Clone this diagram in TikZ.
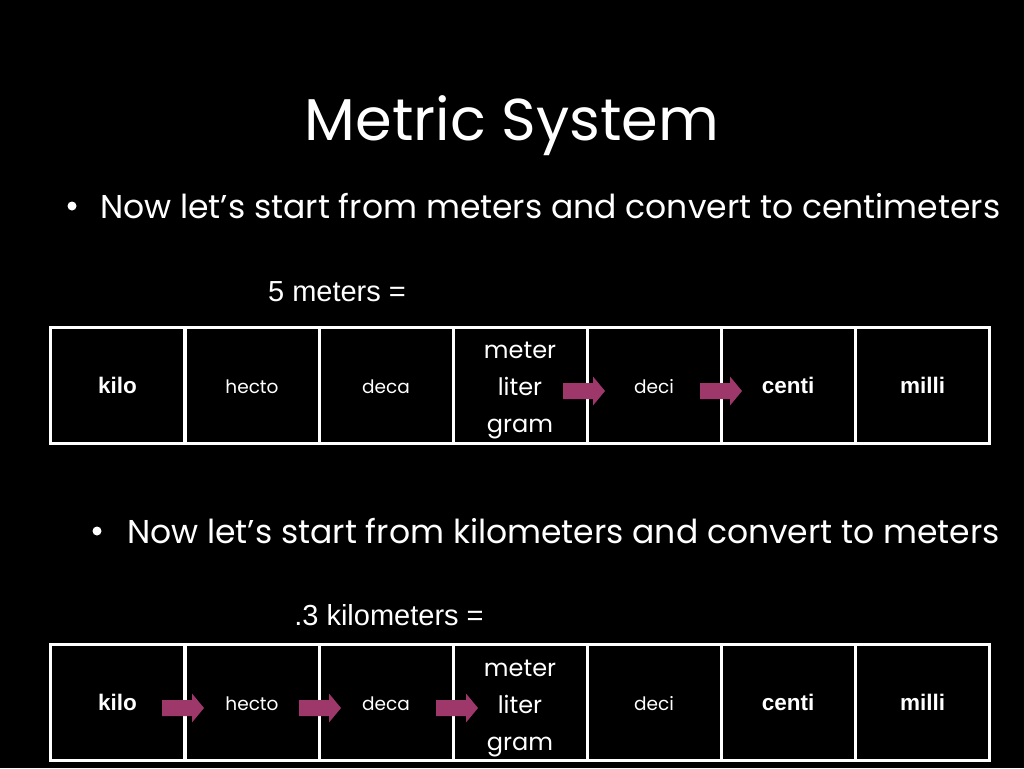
\documentclass[tikz,border=0pt]{standalone}
\usepackage{fontspec}
\setmainfont{Poppins}
\newfontfamily\arialf{Liberation Sans}
\definecolor{arrowc}{RGB}{158,56,106}
\tikzset{
  cell/.style={draw=white, line width=3pt, minimum width=134pt, minimum height=116pt,
    inner sep=0pt, text=white, align=center},
  boldlbl/.style={font=\arialf\bfseries\fontsize{22.5}{26}\selectfont},
  smalllbl/.style={font=\fontsize{18.5}{22}\selectfont},
  biglbl/.style={font=\fontsize{24}{37}\selectfont},
  bulletdot/.style={circle, fill=white, inner sep=0pt, minimum size=9pt},
  bodytext/.style={text=white, inner sep=0pt, font=\fontsize{33}{40}\selectfont},
  blockarrow/.style={fill=arrowc}
}
\newcommand{\barrow}[3]{% name, x start, y center
  \fill[blockarrow] (#2,#3-8) -- (#2+30,#3-8) -- (#2+30,#3-14.5) -- (#2+42,#3)
     -- (#2+30,#3+14.5) -- (#2+30,#3+8) -- (#2,#3+8) -- cycle;}
\begin{document}
\begin{tikzpicture}[x=1pt,y=-1pt]
\fill[black] (0,0) rectangle (1024,768);
\useasboundingbox (0,0) rectangle (1024,768);

\node[anchor=base, text=white, inner sep=0pt, font=\fontsize{59}{66}\selectfont] (title) at (512,140) {Metric System};

\node[bulletdot] (b1) at (72,206) {};
\node[bodytext, anchor=base west] (t1) at (100,218) {Now let’s start from meters and convert to centimeters};

\node[anchor=base, text=white, inner sep=0pt, font=\arialf\fontsize{29}{34}\selectfont] (q1) at (337,301) {5 meters =};

% row 1
\foreach \n/\x in {1/117.5,2/252,3/386,4/520,5/654,6/788,7/922.5}{
  \node[cell] (r\n) at (\x,385) {};
}
\node[boldlbl, text=white] at (r1) {kilo};
\node[smalllbl, text=white] at ([yshift=-2pt]r2) {hecto};
\node[smalllbl, text=white] at ([yshift=-2pt]r3) {deca};
\node[biglbl, text=white, align=center] at ([yshift=-6pt]r4) {meter\\liter\\gram};
\node[smalllbl, text=white] at ([yshift=-2pt]r5) {deci};
\node[boldlbl, text=white] at (r6) {centi};
\node[boldlbl, text=white] at (r7) {milli};
\barrow{a1}{563}{391}
\barrow{a2}{700}{391}

\node[bulletdot] (b2) at (97,531) {};
\node[bodytext, anchor=base west] (t2) at (127,543) {Now let’s start from kilometers and convert to meters};

\node[anchor=base, text=white, inner sep=0pt, font=\arialf\fontsize{29}{34}\selectfont] (q2) at (389,625) {.3 kilometers =};

% row 2
\foreach \n/\x in {1/117.5,2/252,3/386,4/520,5/654,6/788,7/922.5}{
  \node[cell] (s\n) at (\x,702) {};
}
\node[boldlbl, text=white] at (s1) {kilo};
\node[smalllbl, text=white] at ([yshift=-2pt]s2) {hecto};
\node[smalllbl, text=white] at ([yshift=-2pt]s3) {deca};
\node[biglbl, text=white, align=center] at ([yshift=-6pt]s4) {meter\\liter\\gram};
\node[smalllbl, text=white] at ([yshift=-2pt]s5) {deci};
\node[boldlbl, text=white] at (s6) {centi};
\node[boldlbl, text=white] at (s7) {milli};
\barrow{a3}{162}{708}
\barrow{a4}{299}{708}
\barrow{a5}{436}{708}
\end{tikzpicture}
\end{document}
